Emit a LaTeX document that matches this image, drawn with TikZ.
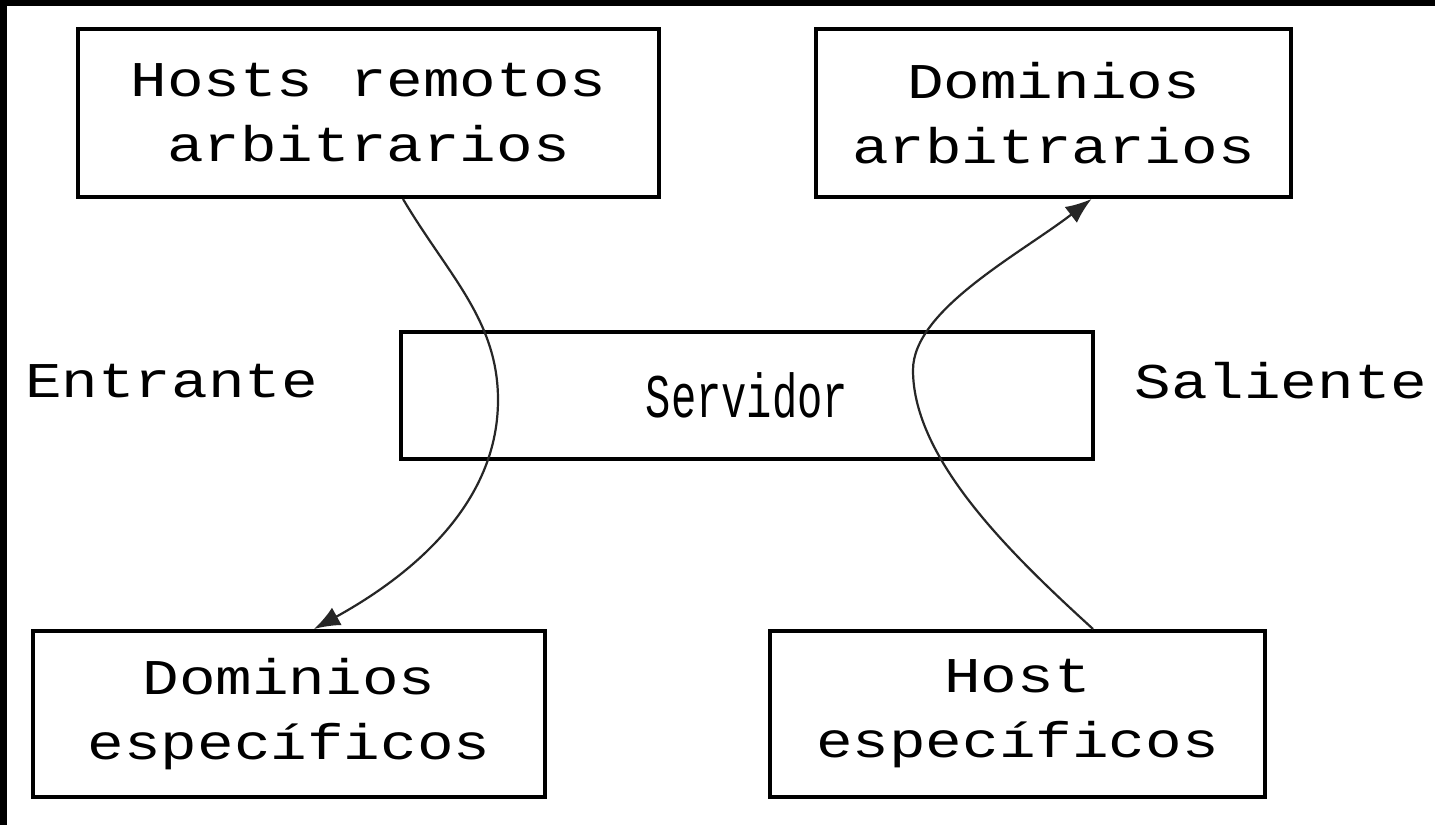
\documentclass[tikz,border=0pt]{standalone}
\usepackage{fontspec}
\usepackage{graphicx}
\newfontfamily\monofont[FakeStretch=1.22]{Liberation Mono}
\newfontfamily\srvfont[FakeStretch=0.68]{Liberation Mono}
\usetikzlibrary{arrows.meta}
\begin{document}
\begin{tikzpicture}[x=1pt,y=-1pt,
  boxst/.style={draw=black,line width=4pt,inner sep=0pt,align=center,
    font=\monofont\fontsize{50}{65}\selectfont},
  lbl/.style={inner sep=0pt,font=\monofont\fontsize{50}{65}\selectfont},
  conn/.style={line width=2.2pt,draw=black!85,-{Latex[length=26pt,width=20pt]}}]
\useasboundingbox (0,0) rectangle (1435,825);
\fill[black] (0,0) rectangle (1435,825);
\fill[white] (7,6) rectangle (1435,825);
\node[boxst,minimum width=581pt,minimum height=168pt] (hra) at (368.5,113) {Hosts remotos\\arbitrarios};
\node[boxst,minimum width=475pt,minimum height=168pt] (da) at (1053.5,113) {Dominios\\arbitrarios};
\node[boxst,minimum width=692pt,minimum height=127pt,font=\srvfont\fontsize{62}{66}\selectfont] (srv) at (747,395.5) {Servidor};
\node[boxst,minimum width=512pt,minimum height=166pt] (de) at (289,714) {Dominios\\espec\'ificos};
\node[boxst,minimum width=495pt,minimum height=166pt] (he) at (1017.5,714) {Host\\espec\'ificos};
\node[lbl] (ent) at (171.5,381) {Entrante};
\node[lbl] (sal) at (1281,381) {Saliente};
\coordinate (m1) at (498,400);
\coordinate (m2) at (913,370);
\draw[conn] ([xshift=34.5pt]hra.south) .. controls (448,275) and (498,320) .. (m1)
  .. controls (498,510) and (401,581) .. ([xshift=25pt]de.north);
\draw[conn] ([xshift=75.5pt]he.north) .. controls (1013,556) and (913,460) .. (m2)
  .. controls (913,310) and (1020,254) .. ([xshift=38pt]da.south);
\end{tikzpicture}
\end{document}
